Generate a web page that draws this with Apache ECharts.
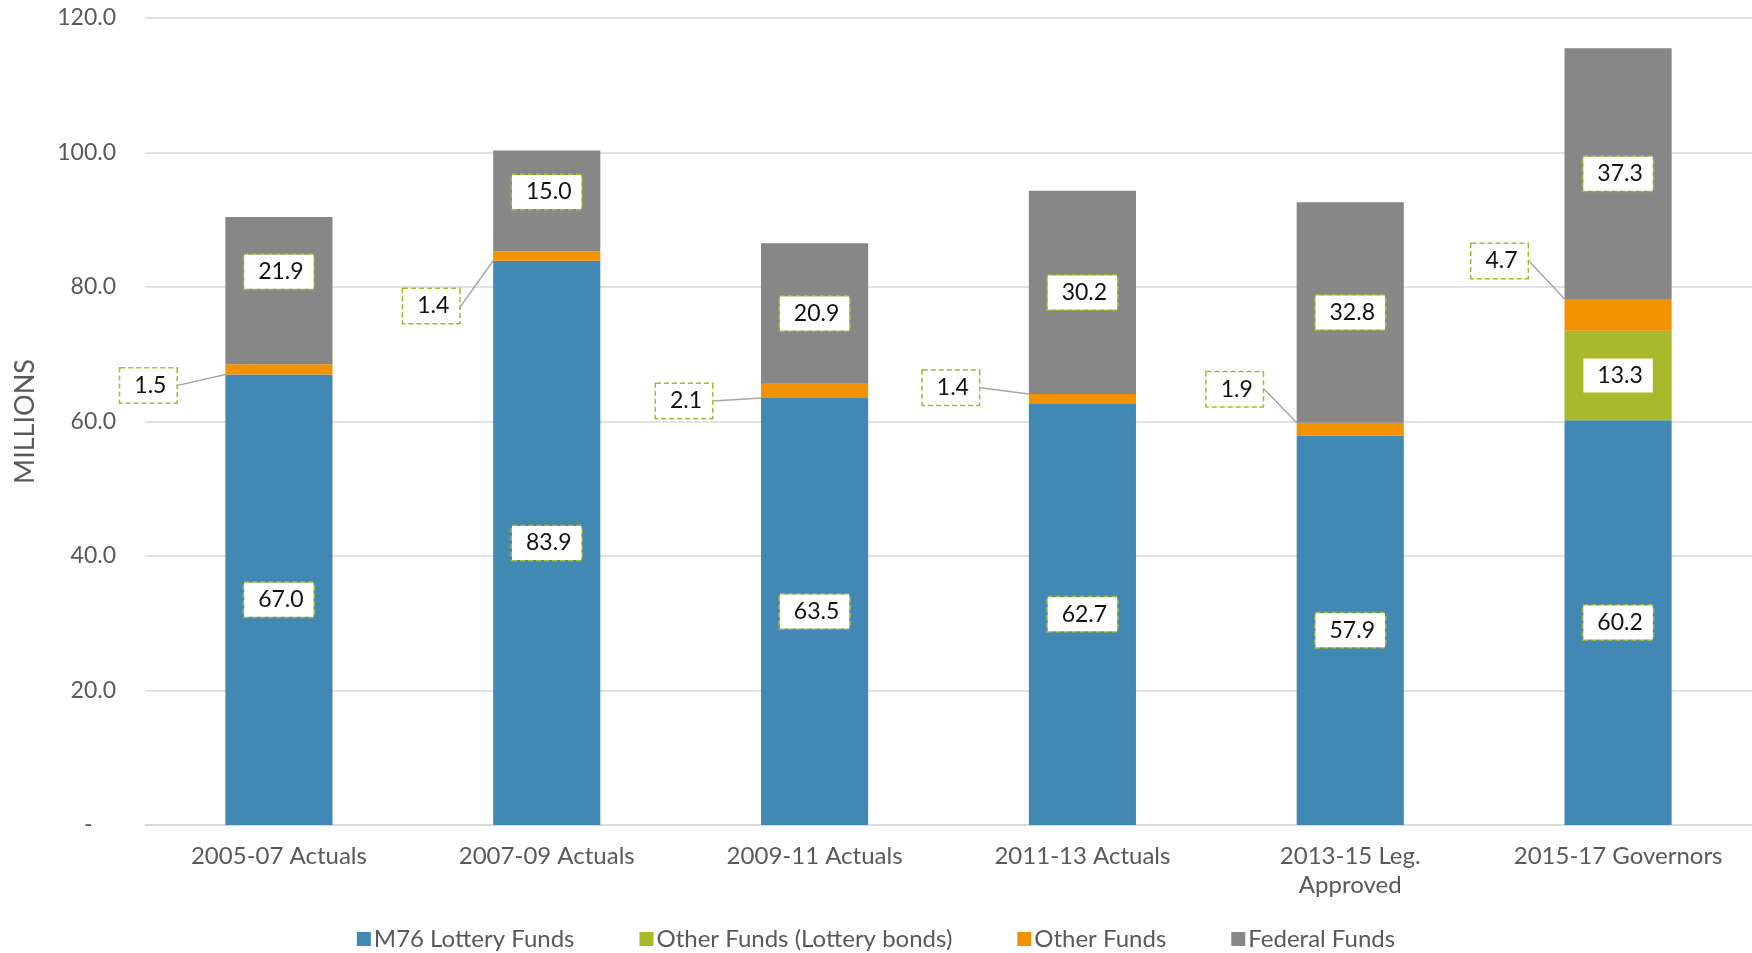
<!DOCTYPE html>
<html>
<head>
<meta charset="utf-8">
<script src="https://cdn.jsdelivr.net/npm/echarts@6/dist/echarts.min.js"></script>
<style>
html,body{margin:0;padding:0;background:#fff;}
#chart{width:1752px;height:953px;}
</style>
</head>
<body>
<div id="chart"></div>
<script>
const categories = ['2005-07 Actuals', '2007-09 Actuals', '2009-11 Actuals', '2011-13 Actuals', '2013-15 Leg.\nApproved', '2015-17 Governors'];
const seriesNames = ['M76 Lottery Funds', 'Other Funds (Lottery bonds)', 'Other Funds', 'Federal Funds'];
const m76 = [67.0, 83.9, 63.5, 62.7, 57.9, 60.2];
const lotteryBonds = [0, 0, 0, 0, 0, 13.3];
const otherFunds = [1.5, 1.4, 2.1, 1.4, 1.9, 4.7];
const federal = [21.9, 15.0, 20.9, 30.2, 32.8, 37.3];
const yTicks = [0, 20, 40, 60, 80, 100, 120];

// label placement (style only)
const otherDx = [-77, -62, -77, -78, -62, -65];
const otherDy = [16, 50, 10, -11, -40, -54];
const fedDy = [-19, -9, 0, 0, 0, 0];

const colors = ['#4189b4', '#a8b92a', '#f39200', '#878787'];
const FONT = 'Lato, "Open Sans", sans-serif';
const labelBox = {
  show: true,
  color: '#111',
  fontFamily: FONT,
  fontSize: 23,
  backgroundColor: '#fff',
  borderColor: '#a6b82c',
  borderWidth: 1.5,
  borderType: [5, 3],
  padding: [6, 10, 5, 14],
  formatter: p => p.value.toFixed(1)
};

const chart = echarts.init(document.getElementById('chart'));
chart.setOption({
  animation: false,
  color: colors,
  grid: {left: 145, right: 0, top: 18, bottom: 128, containLabel: false, outerBoundsMode: 'none'},
  legend: {
    top: 922,
    left: 'center',
    icon: 'rect',
    itemWidth: 14,
    itemHeight: 14,
    itemGap: 65,
    textStyle: {color: '#595959', fontSize: 24, fontFamily: FONT, padding: [0, 0, 0, -2]},
    data: seriesNames
  },
  xAxis: {
    type: 'category',
    data: categories,
    axisTick: {show: false},
    axisLine: {lineStyle: {color: '#d9d9d9', width: 1.5}},
    axisLabel: {color: '#595959', fontSize: 24, fontFamily: FONT, margin: 17, lineHeight: 29, interval: 0, hideOverlap: false}
  },
  yAxis: {
    type: 'value',
    min: 0,
    max: 120,
    interval: 20,
    name: 'MILLIONS',
    nameLocation: 'middle',
    nameGap: 106,
    nameTextStyle: {color: '#595959', fontSize: 27, fontFamily: FONT},
    axisLine: {show: false},
    axisTick: {show: false},
    splitLine: {lineStyle: {color: '#d9d9d9', width: 1.5}},
    axisLabel: {
      color: '#595959', fontSize: 23, fontFamily: FONT, margin: 29,
      formatter: v => (v === 0 ? '-    ' : v.toFixed(1))
    }
  },
  series: [
    {
      name: seriesNames[0], type: 'bar', stack: 'total', barWidth: '40%',
      data: m76,
      label: Object.assign({}, labelBox, {position: 'inside'})
    },
    {
      name: seriesNames[1], type: 'bar', stack: 'total', barWidth: '40%',
      data: lotteryBonds.map(v => ({value: v, label: {show: v > 0}})),
      label: Object.assign({}, labelBox, {position: 'inside'})
    },
    {
      name: seriesNames[2], type: 'bar', stack: 'total', barWidth: '40%',
      data: otherFunds,
      label: Object.assign({}, labelBox, {position: 'inside'}),
      labelLine: {show: true, lineStyle: {color: '#a6a6a6', width: 1.5}},
      labelLayout: function (p) {
        const i = p.dataIndex;
        const r = p.rect;
        const cx = r.x + otherDx[i];
        const cy = r.y + r.height / 2 + otherDy[i];
        const w = p.labelRect.width;
        return {
          x: cx, y: cy, align: 'center', verticalAlign: 'middle',
          labelLinePoints: [[cx + w / 2, cy], [cx + w / 2 + 10, cy], [r.x, r.y + r.height / 2]]
        };
      }
    },
    {
      name: seriesNames[3], type: 'bar', stack: 'total', barWidth: '40%',
      data: federal,
      label: Object.assign({}, labelBox, {position: 'inside'}),
      labelLayout: function (p) {
        return {dy: fedDy[p.dataIndex]};
      }
    }
  ]
});
</script>
</body>
</html>
